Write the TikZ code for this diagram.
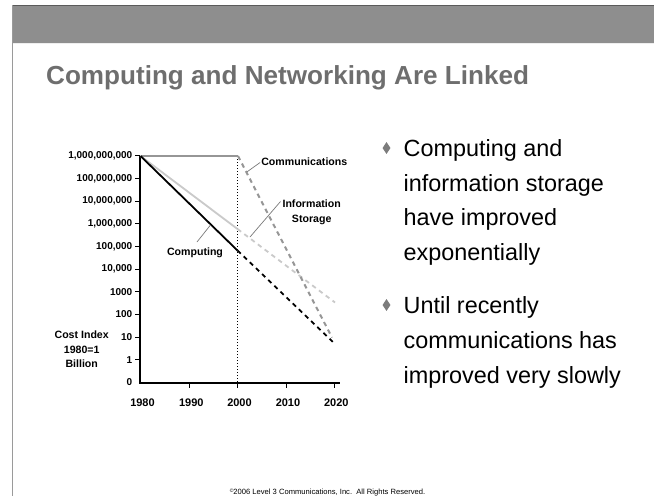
\documentclass[tikz,border=0pt]{standalone}
\usepackage{fontspec}
\setmainfont{Liberation Sans}
\usetikzlibrary{shapes.geometric}

\definecolor{band}{HTML}{8E8E8E}
\definecolor{bandedge}{HTML}{5A5A5A}
\definecolor{frameline}{HTML}{9A9A9A}
\definecolor{titlegray}{HTML}{6E6E6E}
\definecolor{commgray}{HTML}{969696}
\definecolor{storegray}{HTML}{CACACA}
\definecolor{leadergray}{HTML}{7A7A7A}
\definecolor{bulletgray}{HTML}{7C7C7C}

\tikzset{
  ticklabel/.style={inner sep=0pt, font=\fontsize{10}{10}\selectfont\bfseries},
  yearlabel/.style={inner sep=0pt, anchor=center, font=\fontsize{11}{11}\selectfont\bfseries},
  serieslabel/.style={inner sep=0pt, align=center, font=\fontsize{10.6}{14.5}\selectfont\bfseries},
  axisline/.style={draw=black, line width=1.3pt},
  tickline/.style={draw=black, line width=1pt},
  leader/.style={draw=leadergray, line width=0.7pt},
  computing/.style={draw=black, line width=1.8pt},
  storage/.style={draw=storegray, line width=1.8pt},
  comms/.style={draw=commgray, line width=2pt},
  future/.style={dash pattern=on 4.5pt off 4pt},
  bullettext/.style={inner sep=0pt, anchor=base west, font=\fontsize{23.4}{23.4}\selectfont},
  bulletmark/.style={diamond, fill=bulletgray, inner sep=0pt, minimum width=8pt, minimum height=12pt},
}

\begin{document}
\begin{tikzpicture}[x=1pt, y=-1pt]
\useasboundingbox (0,0) rectangle (654,496);
\fill[white] (0,0) rectangle (654,496);

% header band and slide frame
\fill[band] (12,5) rectangle (654,43);
\draw[bandedge, line width=1.2pt] (12,5.6) -- (654,5.6);
\draw[white!85!band, line width=0.8pt] (12,43.2) -- (654,43.2);
\draw[frameline, line width=1.3pt] (12.4,5) -- (12.4,496);

% title
\node[inner sep=0pt, anchor=base west, text=titlegray,
      font=\fontsize{26.1}{26.1}\selectfont\bfseries] (title) at (46,84.5)
  {Computing and Networking Are Linked};

% ---------- chart ----------
\coordinate (origin) at (140,383);
\coordinate (ytop) at (140,156);
\coordinate (xend) at (339.5,383);
\draw[axisline] (ytop) -- (origin) -- (xend);

% vertical scale: one row per decade
\foreach \lab [count=\k from 0] in {{1,000,000,000},{100,000,000},{10,000,000},{1,000,000},{100,000},{10,000},{1000},{100},{10},{1},{0}} {
  \pgfmathsetmacro{\yy}{155.9+22.66*\k}
  \ifnum\k<10
    \draw[tickline] (135,\yy) -- (140,\yy);
  \fi
  \node[ticklabel, anchor=east] (ylab\k) at (132.5,\yy) {\lab};
}

% horizontal scale
\foreach \yr/\xx in {1980/140.5,1990/189.3,2000/237.5,2010/286,2020/334.3} {
  \ifnum\yr>1980
    \draw[tickline] (\xx,383) -- (\xx,388);
  \fi
  \node[yearlabel] (year\yr) at (\xx+2,403) {\yr};
}

% axis caption
\node[serieslabel, font=\fontsize{10.6}{14.6}\selectfont\bfseries] (caption) at (81.7,349.5)
  {Cost Index\\1980=1\\Billion};

% year 2000 marker
\coordinate (y2000top) at (237.5,156);
\coordinate (y2000bot) at (237.5,383);
\draw[black, line width=0.7pt, dash pattern=on 1.4pt off 1.6pt] (y2000top) -- (y2000bot);

% series points
\coordinate (start) at (140.5,156);
\coordinate (comp2000) at (237.5,250.5);
\coordinate (comp2020) at (333.5,342.5);
\coordinate (store2000) at (237.5,229);
\coordinate (store2020) at (335,302.5);
\coordinate (comm2000) at (238,156);
\coordinate (comm2020) at (332,337.5);

% information storage
\draw[storage] (start) -- (store2000);
\draw[storage, future] (store2000) -- (store2020);
% communications
\draw[comms] (start) -- (comm2000);
\draw[comms, future] (comm2000) -- (comm2020);
% computing
\draw[computing] (start) -- (comp2000);
\draw[computing, future] (comp2000) -- (comp2020);

% series labels with leaders
\node[serieslabel] (commlab) at (304.3,161.5) {Communications};
\coordinate (commtip) at (246.8,172);
\draw[leader] (commlab.west) ++(-1,1) -- (commtip);

\node[serieslabel] (storelab) at (311.7,212.3) {Information\\Storage};
\coordinate (storetip) at (250,237);
\draw[leader] (280.5,201.5) -- (storetip);

\node[serieslabel] (complab) at (195,253) {Computing};
\coordinate (comptip) at (210.5,225);
\draw[leader] (197,242) -- (comptip);

% ---------- bullets ----------
\node[bulletmark] (b1) at (386.5,148) {};
\node[bullettext] (b1l1) at (403.5,156) {Computing and};
\node[bullettext] (b1l2) at (403.5,191) {information storage};
\node[bullettext] (b1l3) at (403.5,225.8) {have improved};
\node[bullettext] (b1l4) at (403.5,260.5) {exponentially};

\node[bulletmark] (b2) at (386.5,305) {};
\node[bullettext] (b2l1) at (403.5,313) {Until recently};
\node[bullettext] (b2l2) at (403.5,348.2) {communications has};
\node[bullettext] (b2l3) at (403.5,383) {improved very slowly};

% footer
\node[inner sep=0pt, anchor=base, font=\fontsize{7.6}{7.6}\selectfont] (footer) at (327.5,494)
  {\raisebox{1.6pt}{\fontsize{5}{5}\selectfont ©}2006 Level 3 Communications, Inc.\ \ All Rights Reserved.};
\end{tikzpicture}
\end{document}
